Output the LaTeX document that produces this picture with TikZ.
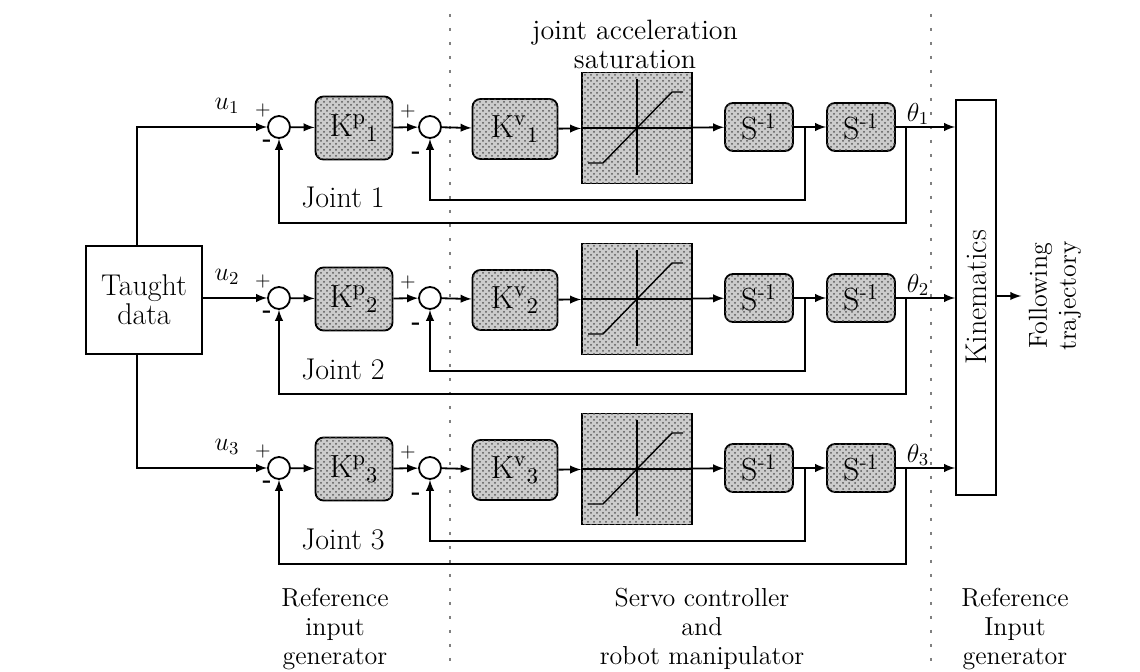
\RequirePackage{fix-cm}
\documentclass[tikz,border=0pt]{standalone}
\usetikzlibrary{patterns}

\begin{document}
\begin{tikzpicture}[x=0.5pt, y=-0.5pt, >=latex, line width=0.9pt,
  font=\fontsize{13}{14.5}\selectfont,
  gain/.style={draw, rounded corners=4pt, fill=gray!40,
    postaction={pattern=crosshatch dots, pattern color=gray!70!black},
    inner sep=0pt, font=\fontsize{16}{16}\selectfont},
  sum/.style={draw, circle, minimum size=11pt, inner sep=0pt, fill=white},
  sign/.style={inner sep=0pt, font=\fontsize{10}{10}\selectfont},
  big/.style={font=\fontsize{15}{14.5}\selectfont}]
\useasboundingbox (0,0) rectangle (1140,672);

% section borders
\draw[gray, line width=0.6pt, dash pattern=on 1.5pt off 5.5pt] (450,14) -- (450,672);
\draw[gray, line width=0.6pt, dash pattern=on 1.5pt off 5.5pt] (931,14) -- (931,672);

\node[draw, big, minimum width=58pt, minimum height=54pt, align=center] (taught) at (144,300) {Taught\\data};
\node[draw, minimum width=20pt, minimum height=197.5pt] (kin) at (976,297.5) {};
\node[big, rotate=90] (kintext) at (kin) {Kinematics};

\foreach \i/\y in {1/127, 2/298, 3/468} {
  \node[sum] (a\i) at (279,\y) {};
  \node[gain, minimum width=38.5pt, minimum height=31.5pt] (kp\i) at (354,\y+1) {K$^{\mathrm{p}}{}_{\i}$};
  \node[sum] (b\i) at (430,\y) {};
  \node[gain, minimum width=42.5pt, minimum height=30pt] (kv\i) at (515,\y+2) {K$^{\mathrm{v}}{}_{\i}$};
  \node[gain, rounded corners=0pt, minimum width=55pt, minimum height=55.5pt] (sat\i) at (637,\y+1) {};
  \node[gain, minimum width=34pt, minimum height=24pt] (si\i) at (759,\y) {S\textsuperscript{-1}};
  \node[gain, minimum width=34pt, minimum height=24pt] (sii\i) at (861,\y) {S\textsuperscript{-1}};

  % saturation curve
  \draw[line width=0.7pt] (sat\i.west) -- (sat\i.east);
  \draw[line width=0.7pt] ([yshift=-3.5pt]sat\i.north) -- ([yshift=4.5pt]sat\i.south);
  \draw[line width=0.7pt] ([shift={(-49,35)}]sat\i.center) -- ++(15,0) -- ++(69,-71) -- ++(11,0);

  \draw[->] (a\i) -- (kp\i);
  \draw[->] (kp\i) -- (b\i);
  \draw[->] (b\i) -- (kv\i);
  \draw[->] (kv\i) -- (sat\i);
  \draw[->] (sat\i) -- (si\i);
  \draw[->] (si\i) -- (sii\i);
  \draw[->] (sii\i) -- (sii\i -| kin.west);

  % feedback
  \coordinate (t\i) at (805,\y);
  \coordinate (tt\i) at (906,\y);
  \draw[->] (t\i) -- ++(0,73) -| (b\i);
  \draw[->] (tt\i) -- ++(0,96) -| (a\i);

  \node (u\i) at (227,\y-21) {$u_{\i}$};
  \node (th\i) at (918,\y-13) {$\theta_{\i}$};
  \node[big] (joint\i) at (343,\y+71) {Joint \i};
  \node[sign] (pa\i) at (263,\y-16) {+};
  \node[sign, font=\fontsize{12}{12}\selectfont] (ma\i) at (267,\y+16) {\textbf{-}};
  \node[sign] (pb\i) at (408,\y-15) {+};
  \node[sign, font=\fontsize{12}{12}\selectfont] (mb\i) at (416,\y+28) {\textbf{-}};
}

\draw[->] (taught.east |- a2) -- (a2);
\draw[->] ([xshift=-3.5pt]taught.north) |- (a1);
\draw[->] ([xshift=-3.5pt]taught.south) |- (a3);

\node[rotate=90, align=center] (follow) at (1055,296) {Following\\trajectory};
\draw[->] (kin.east |- follow.north) -- (follow.north);

\node[align=center, font=\fontsize{14}{14.5}\selectfont] (satlabel) at (635,44) {joint acceleration\\saturation};
\node[align=center] (refin) at (335,629) {Reference\\input\\generator};
\node[align=center] (servo) at (702,629) {Servo controller\\and\\robot manipulator};
\node[align=center] (refout) at (1015,629) {Reference\\Input\\generator};
\end{tikzpicture}
\end{document}
